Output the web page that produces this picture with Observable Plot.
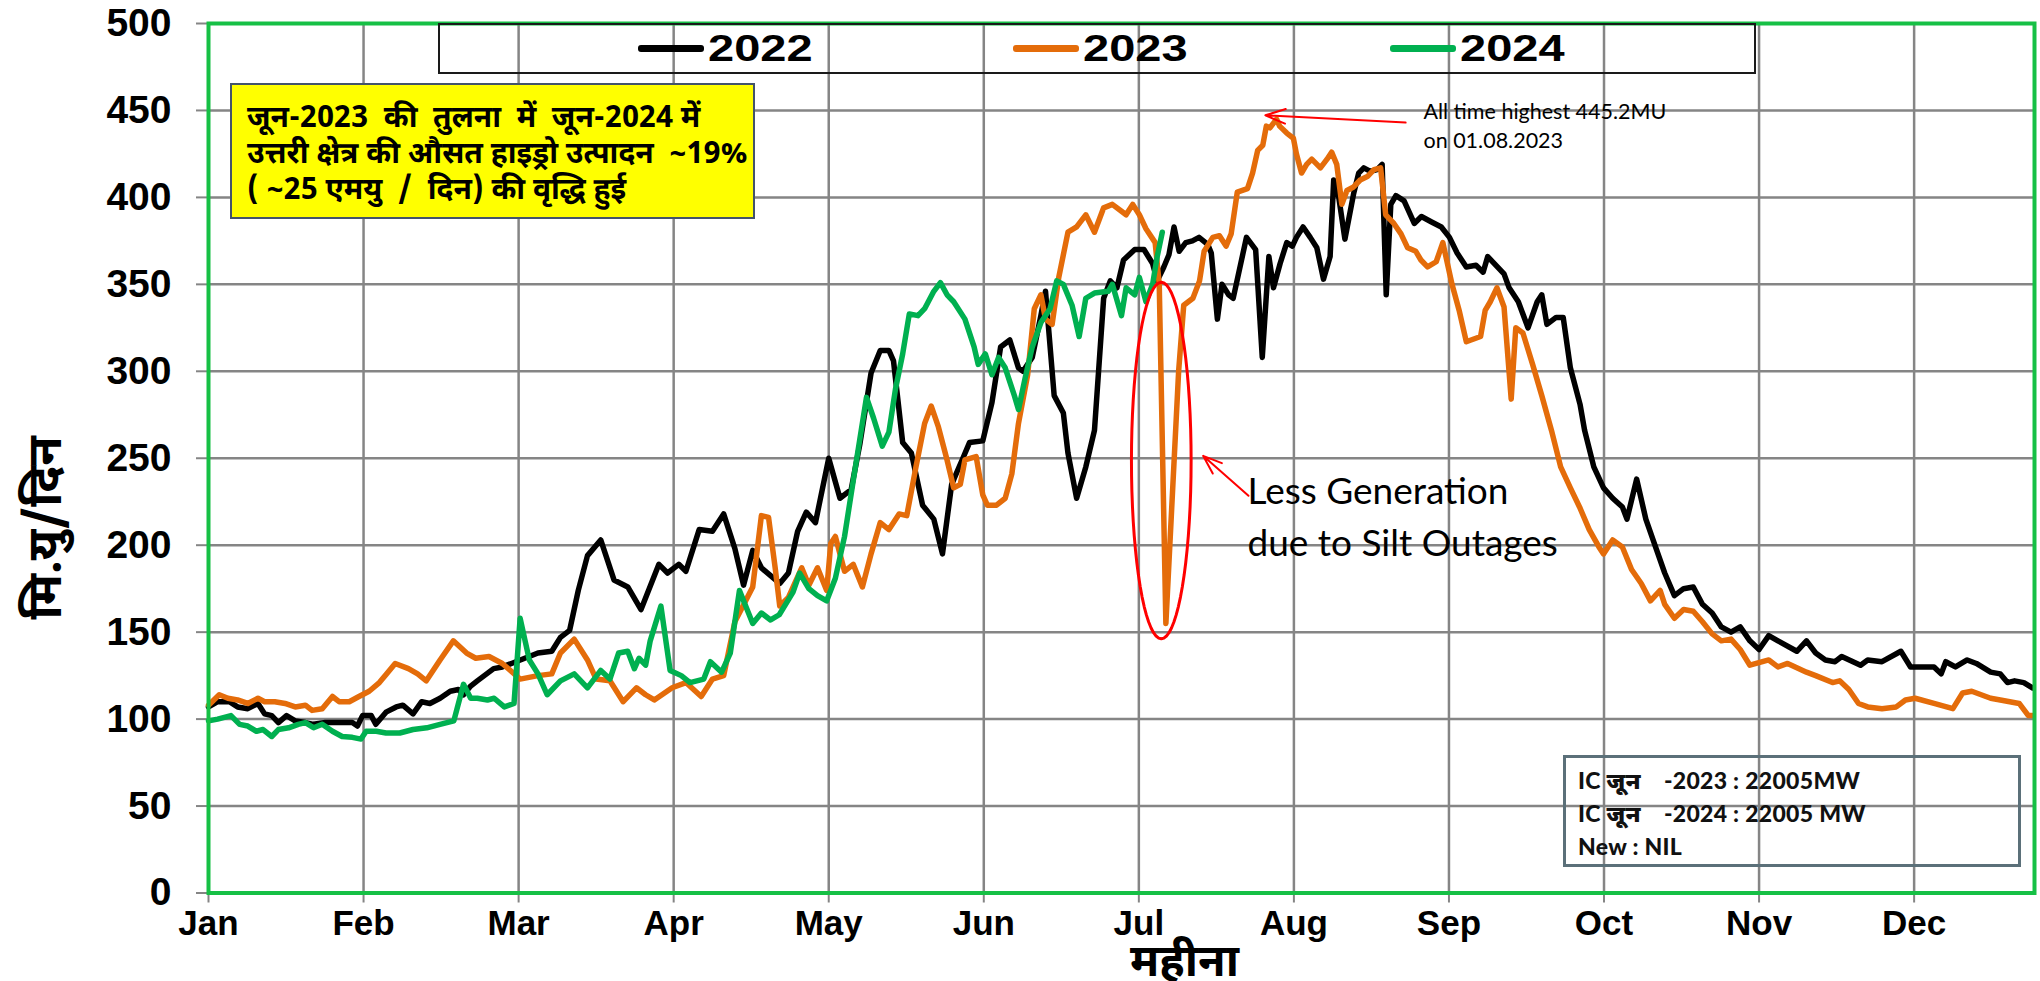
<!DOCTYPE html>
<html>
<head>
<meta charset="utf-8">
<script src="https://cdn.jsdelivr.net/npm/d3@7"></script>
<script src="https://cdn.jsdelivr.net/npm/@observablehq/plot@0.6"></script>
<style>
  html, body { margin: 0; padding: 0; background: #fff; }
  #wrap { position: relative; width: 2040px; height: 981px; overflow: hidden;
          font-family: "Liberation Sans", Arial, "Noto Sans Devanagari", sans-serif; }
  #wrap > svg { position: absolute; left: 0; top: 0; }
  .ov { position: absolute; box-sizing: border-box; }
  #legend { left: 438px; top: 23px; width: 1318px; height: 51px; border: 2px solid #1a1a1a; }
  .sw { position: absolute; top: 20px; width: 66px; height: 7px; border-radius: 3px; }
  .lt { position: absolute; top: 2px; font-weight: bold; font-size: 37px; line-height: 44px;
        transform: scaleX(1.27); transform-origin: left center; color: #000; }
  #note { left: 230px; top: 83px; width: 525px; height: 136px; background: #ffff00;
          border: 2px solid #44546a; padding: 17px 0 0 15px; font-weight: bold; font-size: 30px;
          line-height: 36px; color: #000; white-space: pre;
          font-family: "Noto Sans Devanagari", "Noto Sans", "Liberation Sans", sans-serif; }
  #ic { left: 1563px; top: 755px; width: 458px; height: 112px; border: 3px solid #5b7079;
        padding: 6px 0 0 12px; font-weight: 900; font-size: 23px; line-height: 33px; color: #111;
        letter-spacing: 0.3px; white-space: pre;
        font-family: Lato, "Noto Sans Devanagari", "Noto Sans", sans-serif; }
</style>
</head>
<body>
<div id="wrap"></div>
<script>
// ---------- data ----------
const months = ["Jan","Feb","Mar","Apr","May","Jun","Jul","Aug","Sep","Oct","Nov","Dec"];
const years = ["2022", "2023", "2024"];
const yearColors = ["#000000", "#e46c0a", "#00b050"];
const yTicks = [0, 50, 100, 150, 200, 250, 300, 350, 400, 450, 500];

const day2022 = [0,1.8,4.1,5.7,7.7,9.7,11,12.4,13.7,15.3,17,19,20.6,22.9,25.6,28.2,29.2,30.2,31.9,32.8,34.8,36.8,38.1,40.1,41.8,43.4,45.4,47.4,49,50,51.4,52.7,55.9,57.6,59.4,62,64.6,67.3,69,70.8,72.5,74.3,76.9,79.5,82.2,84.8,88.3,90,92.2,93.6,96.2,98.8,101,103.2,104.9,106.7,108.4,112,113.7,115.5,117.2,119,121.6,123.8,126,127.7,129.9,131.7,133.4,134.3,136.1,137.8,140,142.2,143.9,145.7,147.9,149.2,151.8,153.6,155.3,157.1,158.8,159.7,161.5,163.2,164.1,165.8,167.6,168.5,170.2,172,173.7,175.5,176.8,178.1,179.4,181.6,183.4,185.1,186,187.3,188.3,189.3,190.3,191.6,192.9,194.2,195.9,196.6,197.8,198.7,200,200.9,203.5,205.3,206.6,207.9,208.8,210.1,211.4,212.5,213.3,214.6,216,217.3,218.6,219.9,220.6,221.6,222.8,224.5,225.5,226.5,227.8,229.1,230.1,230.9,231.8,232.8,234.4,236.4,237.8,239.7,241.7,243.3,244.8,246.6,248.5,249.9,250.8,254,255,256.8,258.7,260.5,261.4,262.4,264.2,265.6,267,268.9,269.8,271.6,273.5,275.3,277.2,278.1,280,281.8,283.7,285.5,287.4,289.2,291.1,292.9,294.8,296.6,298.5,300.3,302.2,304,305.9,307.7,311.4,313.3,315.1,317,318.9,320.2,323.9,325.3,328.1,331.8,333.7,338.3,339.7,340.6,342.5,344.8,346.6,349.4,351.3,352.7,354.1,355.9,357.6];
const mu2022 = [107,110,110,107,106,109,103,102,98,102,99,98,97,98,98,98,96,102,102,97,104,107,108,103,110,109,112,116,117,114,119,122,129,130,132,135,138,139,147,151,174,194,203,180,176,163,189,184,189,185,209,208,218,198,177,197,187,178,184,208,219,213,250,227,232,258,299,312,312,306,259,253,223,215,195,235,250,259,260,282,314,318,302,300,308,332,346,286,276,253,227,245,266,342,352,348,364,370,370,362,352,360,367,383,369,374,375,377,373,368,330,350,344,342,377,370,308,366,348,362,374,372,377,383,377,371,353,366,410,400,376,402,414,417,415,416,419,344,396,401,398,385,389,386,383,377,368,360,361,357,366,356,348,340,325,340,344,327,331,331,302,281,266,245,233,227,222,215,238,215,199,184,171,175,176,166,161,153,150,153,145,140,148,145,139,145,138,134,133,136,131,134,133,139,130,130,126,133,130,134,132,127,126,121,122,121,118];

const day2023 = [0,2.1,3.8,5.7,7.7,9.7,11,13,15,17,19,20.3,22.3,24.3,25.6,27.6,29.5,31.5,33.5,34.9,36.6,39.2,41,42.7,45.4,48,50.6,52.4,55,57.6,61.1,64.6,67.3,69,71.7,74.3,76,78.7,81.3,83.9,85.7,87.4,90.9,93.6,96.6,98.8,101,103.2,106.7,108.4,109.8,111.1,112,113.7,116.3,117.7,119.4,121.2,122,122.9,124.7,126.4,128.2,129.9,131.7,133.4,135.4,136.9,138.7,140.4,141.7,143.1,144.8,146.1,147.4,148.3,150.5,151.8,152.7,154.5,156.2,157.5,158.8,160.6,161.9,163.2,164.1,165.4,166.7,168.5,170.2,172,173.7,175.5,177.2,179,179.9,181.2,182.5,183.8,185.6,186.4,187.7,190.2,191.2,193,194.3,195.2,196.9,198.2,199.5,200.5,201.7,203.7,204.7,205.7,206.7,207.4,208.1,209.4,210,211.4,212.7,213.3,214.3,215.3,216.3,218,219.3,220.2,221.2,222.2,223.2,224.5,225.8,227.2,228.5,229.8,230.8,232.4,233.8,235.1,236.7,237.7,239,240.7,242,243.8,245.2,246.6,249.4,250.3,251.3,252.6,254,255.4,256.3,257.7,259.6,261.4,263.3,265.1,267,268.8,270.7,272.6,273.5,275.3,277.2,279,280.9,282.7,284.6,285.5,287.4,289.2,291.1,292.9,294.8,296.6,298.5,300.3,302.2,305.9,307.7,309.6,313.3,315.1,318.4,319.8,321.6,323.5,325.3,328.1,330.9,332.7,334.6,338.3,342,343.9,345.7,349.4,351.3,355,356.8,357.6];
const mu2023 = [108,114,112,111,109,112,110,110,109,107,108,105,106,113,110,110,113,116,121,126,132,129,126,122,134,145,138,135,136,132,123,125,126,138,146,134,123,122,110,118,114,111,118,121,113,123,125,156,176,217,216,187,165,170,187,177,187,174,201,205,185,189,176,195,213,209,218,217,245,270,280,268,249,233,235,249,251,229,223,223,227,241,270,298,336,344,330,327,354,380,383,390,380,394,396,392,390,396,390,382,374,350,155,300,338,342,352,369,377,378,372,379,403,405,414,427,430,441,440,445,441,437,434,425,414,419,422,417,422,426,419,396,404,406,410,412,416,417,390,385,379,371,369,364,360,363,374,350,335,317,320,335,340,348,337,284,325,322,304,286,266,245,233,222,209,199,195,203,199,186,178,168,174,166,158,163,162,156,149,145,146,140,131,134,130,132,127,125,121,122,117,109,107,106,107,111,112,109,106,115,116,112,111,109,102,102];

const day2024 = [0,1.8,4.4,6.1,7.7,9.4,10.7,12.4,13.7,15.7,17.6,19,20.6,22.3,24.3,26.2,28.2,29.9,30.9,32.9,34.8,37.5,40.1,42.8,45.4,48.1,50,51.4,52.7,54.7,56,58,59.9,61.1,62.9,64.6,66.4,69,71.7,74.3,76.9,78.7,80.4,82.2,83.5,84.4,85.7,86.6,88.7,90.5,92.7,94.4,97.1,98.4,100.6,102.3,104.1,106.7,108.4,110.2,111.9,114.6,115.9,117.7,119.4,121.2,122.9,124.7,126.4,127.7,129,130.4,132.1,133.4,134.7,136.1,137.4,139.1,140.4,142.2,143.5,144.8,146.1,148.3,150.1,150.9,152.3,153.6,154.9,156.2,158,158.8,160.1,161.5,163.2,165,166.3,167.6,169.3,170.7,172,173.7,176.4,177.2,179,179.9,181.6,182.5,183.8,185.1,186,187];
const mu2024 = [99,100,102,97,96,93,94,90,94,95,97,98,95,97,93,90,89.5,88.5,93,93,92,92,94,95,97,99,120,112,112,111,112,107,109,158,134,126,114,122,126,118,128,123,138,139,129,135,131,145,165,128,125,121,123,133,127,138,174,155,161,157,160,173,184,175,171,168,181,205,237,261,285,273,257,265,290,310,333,332,336,346,351,344,340,330,314,304,310,298,308,302,286,278,296,314,328,336,352,350,338,320,342,345,346,350,332,348,344,354,340,350,366,380];

// annotation text
const peakNote = "All time highest 445.2MU\non 01.08.2023";
const siltNote = "Less Generation\ndue to Silt Outages";
const yTitle = "मि.यु/दिन";
const xTitle = "महीना";

// ---------- build ----------
const daysPerMonth = 30.4;
const monthTicks = months.map((m, i) => i * daysPerMonth);
const seriesDays = [day2022, day2023, day2024];
const seriesMu = [mu2022, mu2023, mu2024];
const rows = years.flatMap((yr, s) => seriesDays[s].map((d, i) => ({year: yr, day: d, mu: seriesMu[s][i]})));

const peakI = d3.maxIndex(mu2023);
const peak = {day: day2023[peakI], mu: mu2023[peakI]};
const julyIdx = d3.range(day2023.length).filter(i => day2023[i] > 180 && day2023[i] < 200);
const dipI = julyIdx[d3.minIndex(julyIdx, i => mu2023[i])];
const dip = {day: day2023[dipI], mu: mu2023[dipI]};

// ellipse around the silt-outage dip (in data units)
const ell = {cx: dip.day - 0.9, cy: 248.7, rx: 5.85, ry: 102.5};
const ellipsePts = d3.range(0, 361, 5).map(a => ({
  day: ell.cx + ell.rx * Math.cos(a * Math.PI / 180),
  mu: ell.cy + ell.ry * Math.sin(a * Math.PI / 180)
}));

const gridColor = "#858585";
const frameGreen = "#16c045";
const devaFont = "'Noto Sans Devanagari', 'Noto Sans', sans-serif";

const chart = Plot.plot({
  width: 2040,
  height: 981,
  marginLeft: 208,
  marginRight: 6,
  marginTop: 23,
  marginBottom: 88.5,
  x: {domain: [0, 358]},
  y: {domain: [0, 500]},
  color: {domain: years, range: yearColors},
  style: {fontFamily: "'Liberation Sans', Arial, sans-serif", color: "#000", background: "transparent", overflow: "visible"},
  marks: [
    Plot.ruleX(monthTicks, {stroke: gridColor, strokeWidth: 2.5}),
    Plot.ruleY(yTicks, {stroke: gridColor, strokeWidth: 2.5}),
    Plot.axisY({ticks: yTicks, tickSize: 12, tickPadding: 25, fontSize: 39, fontWeight: "bold",
                stroke: gridColor, strokeWidth: 2, label: null}),
    Plot.axisX({ticks: monthTicks, tickFormat: d => months[Math.round(d / daysPerMonth)],
                tickSize: 10, tickPadding: 7, fontSize: 35, fontWeight: "bold",
                stroke: gridColor, strokeWidth: 2, label: null}),
    Plot.line(rows, {x: "day", y: "mu", z: "year", stroke: "year", strokeWidth: 5.5,
                     strokeLinejoin: "round", strokeLinecap: "round"}),
    Plot.frame({stroke: frameGreen, strokeWidth: 4}),
    // axis titles
    Plot.text([210], {y: d => d, frameAnchor: "left", dx: -163, rotate: -90, text: () => yTitle,
                      textAnchor: "middle", lineAnchor: "middle",
                      fontSize: 48, fontWeight: "bold", fontFamily: devaFont}),
    Plot.text([xTitle], {frameAnchor: "bottom", dx: 63, dy: 83, fontSize: 45, fontWeight: "bold",
                         fontFamily: devaFont, ariaLabel: "x-title"}),
    // peak annotation
    Plot.arrow([peak], {x1: d => d.day + 25.3, y1: d => d.mu - 2, x2: d => d.day - 2.2, y2: d => d.mu + 2.2,
                        stroke: "#ff0000", strokeWidth: 2, headLength: 16, headAngle: 40}),
    Plot.text([peak], {x: d => d.day + 28.8, y: d => d.mu + 12, text: () => peakNote, textAnchor: "start",
                       lineAnchor: "top", fontSize: 21.5, lineHeight: 1.35, letterSpacing: 0.3,
                       fontFamily: "Lato, 'Open Sans', sans-serif"}),
    // silt outage annotation
    Plot.line(ellipsePts, {x: "day", y: "mu", stroke: "#ff0000", strokeWidth: 3}),
    Plot.arrow([dip], {x1: d => d.day + 16.2, y1: 228.4, x2: d => d.day + 7.3, y2: 251.4,
                       stroke: "#ff0000", strokeWidth: 2, headLength: 16, headAngle: 40}),
    Plot.text([dip], {x: d => d.day + 16, y: 245, text: () => siltNote, textAnchor: "start",
                      lineAnchor: "top", fontSize: 37, lineHeight: 1.4, fontFamily: "Lato, 'Open Sans', sans-serif"})
  ]
});

const wrap = document.getElementById("wrap");
wrap.appendChild(chart);

// widen the x-axis title horizontally, as in the (stretched) reference
const xTitleG = chart.querySelector('g[aria-label="x-title"]');
if (xTitleG) {
  const b = xTitleG.getBBox();
  const cx = b.x + b.width / 2;
  const wrapper = document.createElementNS("http://www.w3.org/2000/svg", "g");
  wrapper.setAttribute("transform", `translate(${cx},0) scale(1.25,1) translate(${-cx},0)`);
  xTitleG.parentNode.insertBefore(wrapper, xTitleG);
  wrapper.appendChild(xTitleG);
}

// legend box (inside the plot area, as in the reference)
const legend = document.createElement("div");
legend.className = "ov";
legend.id = "legend";
const legendLeft = [198, 573, 950];
years.forEach((yr, i) => {
  const sw = document.createElement("div");
  sw.className = "sw";
  sw.style.left = legendLeft[i] + "px";
  sw.style.background = yearColors[i];
  legend.appendChild(sw);
  const t = document.createElement("div");
  t.className = "lt";
  t.style.left = (legendLeft[i] + 70) + "px";
  t.textContent = yr;
  legend.appendChild(t);
});
wrap.appendChild(legend);

// yellow note box
const note = document.createElement("div");
note.className = "ov";
note.id = "note";
note.textContent = "जून-2023  की  तुलना  में  जून-2024 में\nउत्तरी क्षेत्र की औसत हाइड्रो उत्पादन  ~19%\n( ~25 एमयु  /  दिन) की वृद्धि हुई";
wrap.appendChild(note);

// installed capacity box
const ic = document.createElement("div");
ic.className = "ov";
ic.id = "ic";
ic.textContent = "IC जून    -2023 : 22005MW\nIC जून    -2024 : 22005 MW\nNew : NIL";
wrap.appendChild(ic);
</script>
</body>
</html>
